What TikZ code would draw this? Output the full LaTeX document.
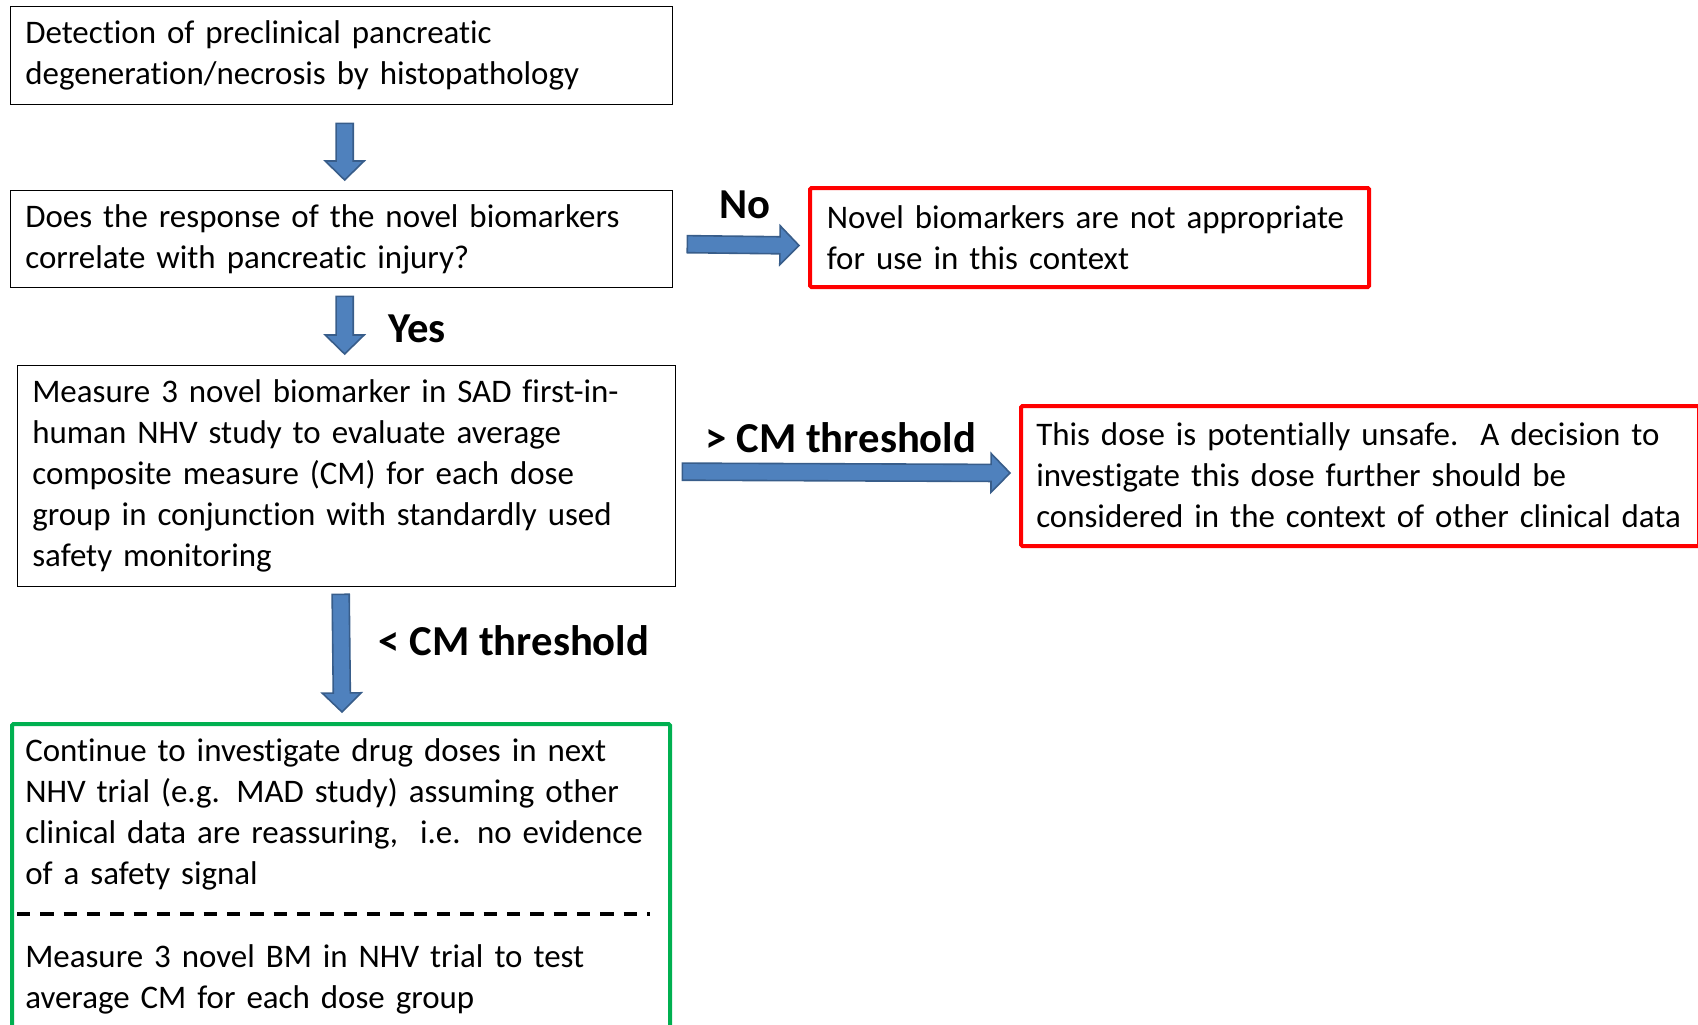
\documentclass[tikz,border=0pt]{standalone}
\usepackage{fontspec}
\setmainfont{Carlito}[Ligatures=NoCommon]
\usetikzlibrary{calc}
\definecolor{arrowfill}{HTML}{4F81BD}
\definecolor{arrowline}{HTML}{385D8A}
\definecolor{boxred}{HTML}{FF0000}
\definecolor{boxgreen}{HTML}{00B050}
\newcommand\mybodyfont{\fontsize{24.7}{30.75}\selectfont}
\newcommand\mylabelfont{\fontsize{32}{38}\selectfont\bfseries}
\begin{document}
\begin{tikzpicture}[x=0.75pt,y=-0.75pt,
  box/.style={draw=black, line width=1pt, rectangle, inner xsep=11pt, inner ysep=0pt,
    align=left, anchor=north west, font=\mybodyfont},
  redbox/.style={box, draw=boxred, line width=3pt, inner xsep=12.5pt, rounded corners=1pt},
  frame/.style={rectangle, inner sep=0pt, anchor=north west, rounded corners=1pt},
  plaintext/.style={inner sep=0pt, align=left, anchor=west, font=\mybodyfont},
  lbl/.style={inner sep=0pt, anchor=base, font=\mylabelfont},
  barrow/.style={fill=arrowfill, draw=arrowline, line width=1.2pt, line join=miter,
    to path={
      ($(\tikztotarget)!14.25pt!(\tikztostart)$) coordinate (bh)
      ($(\tikztostart)!6.4pt!90:(\tikztotarget)$) --
      ($(bh)!6.4pt!90:(\tikztotarget)$) --
      ($(bh)!14.6pt!90:(\tikztotarget)$) --
      (\tikztotarget) --
      ($(bh)!14.6pt!-90:(\tikztotarget)$) --
      ($(bh)!6.4pt!-90:(\tikztotarget)$) --
      ($(\tikztostart)!6.4pt!-90:(\tikztotarget)$) -- cycle
    }},
  dashsep/.style={draw=black, line width=2.4pt, dash pattern=on 10pt off 7.5pt}
]
\useasboundingbox (0,0) rectangle (1698,1024);
\clip (0,0) rectangle (1698,1024);

% boxes
\node[box, minimum width=496.5pt, minimum height=73.5pt, text width=474.5pt] (detect) at (10,6)
  {Detection of preclinical pancreatic\\degeneration/necrosis by histopathology};
\node[box, minimum width=496.5pt, minimum height=72.75pt, text width=474.5pt] (question) at (10,190)
  {Does the response of the novel biomarkers\\correlate with pancreatic injury?};
\node[redbox, minimum width=419.25pt, minimum height=74.25pt, text width=394pt] (notapp) at (808,186)
  {Novel biomarkers are not appropriate\\for use in this context};
\node[box, minimum width=493.5pt, minimum height=165.75pt, text width=471.5pt] (measure) at (17,365)
  {Measure 3 novel biomarker in SAD first-in-\\human NHV study to evaluate average\\composite measure (CM) for each dose\\group in conjunction with standardly used\\safety monitoring};
\node[frame, draw=boxred, line width=3pt, minimum width=508.5pt, minimum height=105pt] (unsafe) at (1019,404) {};
\node[plaintext, text width=500pt] (unsafeT) at ($(unsafe.west)+(17,-1)$)
  {This dose is potentially unsafe.\ \ A decision to\\investigate this dose further should be\\considered in the context of other clinical data};
\node[frame, draw=boxgreen, line width=3pt, minimum width=493.5pt, minimum height=238.5pt] (cont) at (10,722) {};
\node[plaintext, text width=470pt] (contA) at ($(cont.north west)+(15,92)$)
  {Continue to investigate drug doses in next\\NHV trial (e.g. MAD study) assuming other\\clinical data are reassuring,\ \ i.e. no evidence\\of a safety signal};
\node[plaintext, text width=470pt] (contB) at ($(cont.north west)+(15,257)$)
  {Measure 3 novel BM in NHV trial to test\\average CM for each dose group};
\coordinate (dashL) at ($(cont.north west)+(7,192)$);
\coordinate (dashR) at ($(cont.north west)+(640,192)$);
\draw[dashsep] (dashL) -- (dashR);

% arrow end points
\coordinate (a1s) at ($(detect.south)+(3,18)$);
\coordinate (a1e) at ($(question.north)+(3,-10)$);
\coordinate (a2s) at ($(question.south)+(3,8)$);
\coordinate (a2e) at ($(measure.north)+(-2,-11)$);
\coordinate (a3s) at ($(measure.south)+(-6,7)$);
\coordinate (a3e) at ($(cont.north)+(1,-10)$);
\coordinate (a4s) at ($(question.east)+(14,5)$);
\coordinate (a4e) at ($(notapp.west)+(-9,8)$);
\coordinate (a5s) at ($(measure.east)+(6,-4.5)$);
\coordinate (a5e) at ($(unsafe.west)+(-9,-3)$);

\draw[barrow] (a1s) to (a1e);
\draw[barrow] (a2s) to (a2e);
\draw[barrow] (a3s) to (a3e);
\draw[barrow] (a4s) to (a4e);
\draw[barrow] (a5s) to (a5e);

% labels
\node[lbl] (lno) at (745,218) {No};
\node[lbl] (lyes) at (417,342) {Yes};
\node[lbl] (lgt) at (841,452) {> CM threshold};
\node[lbl] (llt) at (514,655) {< CM threshold};
\end{tikzpicture}
\end{document}
